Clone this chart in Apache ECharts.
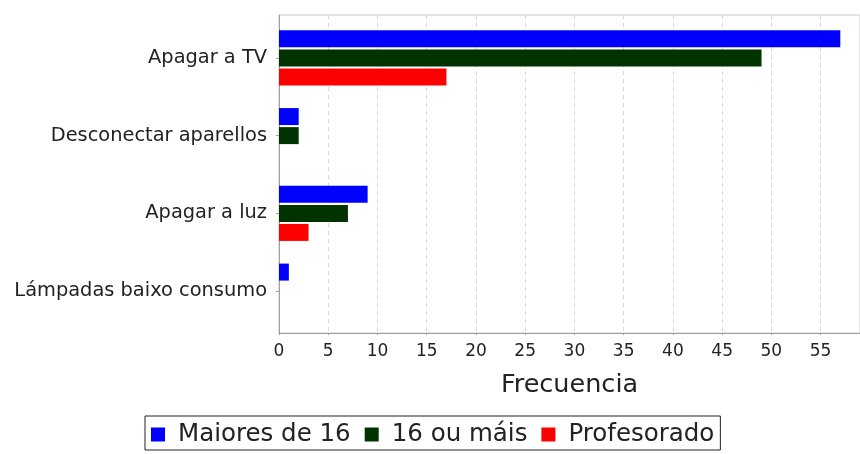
<!DOCTYPE html>
<html>
<head>
<meta charset="utf-8">
<script src="https://cdn.jsdelivr.net/npm/echarts@6/dist/echarts.min.js"></script>
<style>
  html, body { margin: 0; padding: 0; background: #fff; }
  #chart { width: 860px; height: 454px; }
</style>
</head>
<body>
<div id="chart"></div>
<script>
// Energy-saving habits: answer counts per group
const categories = ['Apagar a TV', 'Desconectar aparellos', 'Apagar a luz', 'Lámpadas baixo consumo'];
const seriesNames = ['Maiores de 16', '16 ou máis', 'Profesorado'];
const maiores16 = [57, 2, 9, 1];
const dezaseisOuMais = [49, 2, 7, 0];
const profesorado = [17, 0, 3, 0];
const colors = ['#0000ff', '#003300', '#ff0000'];

const FONT = 'DejaVu Sans';
const X_MAX = 59;

const chart = echarts.init(document.getElementById('chart'), null, { renderer: 'canvas' });

const mkSeries = (name, data, color) => ({
  name: name,
  type: 'bar',
  xAxisIndex: 0,
  yAxisIndex: 0,
  data: data,
  barWidth: 17,
  barGap: '12%',
  itemStyle: { color: color },
  emphasis: { disabled: true }
});

chart.setOption({
  animation: false,
  backgroundColor: '#ffffff',
  textStyle: { fontFamily: FONT },
  grid: [
    // bars
    { left: 279, right: -2, top: 19, height: 311 },
    // plot frame, value axis and gridlines
    { left: 279, right: -2, top: 15, height: 318, show: true, borderColor: '#c8c8c8', borderWidth: 1 }
  ],
  xAxis: [
    { gridIndex: 0, type: 'value', min: 0, max: X_MAX, interval: 5, show: false },
    {
      gridIndex: 1, type: 'value', min: 0, max: X_MAX, interval: 5,
      name: 'Frecuencia', nameLocation: 'middle', nameGap: 39,
      nameTextStyle: { fontFamily: FONT, fontSize: 25.5, color: '#222' },
      axisLine: { show: true, lineStyle: { color: '#a0a0a0', width: 1 } },
      axisTick: { show: true, length: 2, lineStyle: { color: '#a0a0a0' } },
      axisLabel: { fontFamily: FONT, fontSize: 17, color: '#222', margin: 10, showMaxLabel: false },
      splitLine: { show: true, lineStyle: { color: '#d8d8d8', type: [4, 4], width: 1 } }
    }
  ],
  yAxis: [
    {
      gridIndex: 0, type: 'category', data: categories, inverse: true,
      axisLine: { show: false },
      axisTick: { show: true, length: 3, alignWithLabel: true, lineStyle: { color: '#a0a0a0' } },
      axisLabel: { fontFamily: FONT, fontSize: 19.4, color: '#222', margin: 12 },
      splitLine: { show: false }
    },
    {
      gridIndex: 1, type: 'value', min: 0, max: 1,
      axisLine: { show: true, lineStyle: { color: '#a0a0a0', width: 1 } },
      axisTick: { show: false }, axisLabel: { show: false }, splitLine: { show: false }
    }
  ],
  legend: {
    data: seriesNames,
    left: 145,
    top: 416,
    padding: [6, 6, 3, 6],
    borderColor: '#222',
    borderWidth: 1,
    borderRadius: 0,
    icon: 'rect',
    itemWidth: 14,
    itemHeight: 14,
    itemGap: 14,
    textStyle: { fontFamily: FONT, fontSize: 24.5, color: '#222', padding: [0, 0, 0, 8] }
  },
  series: [
    mkSeries(seriesNames[0], maiores16, colors[0]),
    mkSeries(seriesNames[1], dezaseisOuMais, colors[1]),
    mkSeries(seriesNames[2], profesorado, colors[2])
  ]
});
</script>
</body>
</html>
